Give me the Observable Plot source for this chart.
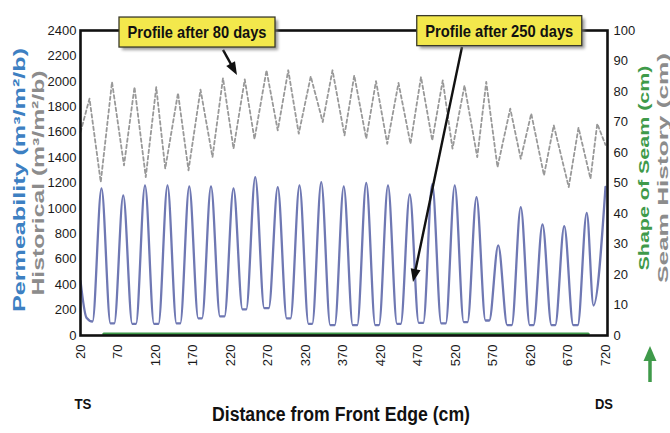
<!DOCTYPE html>
<html><head><meta charset="utf-8">
<script src="https://cdn.jsdelivr.net/npm/d3@7"></script>
<script src="https://cdn.jsdelivr.net/npm/@observablehq/plot@0.6"></script>
<style>
html,body{margin:0;padding:0;background:#fff;}
#chart{width:670px;height:433px;overflow:hidden;}
</style></head><body><div id="chart"></div>
<script>
// Permeability profile after 250 days (blue solid line), distance in cm
const permX = [20, 28, 36, 48, 60, 65, 77, 89, 94, 106, 118, 124, 136, 148, 153, 165, 177, 182, 194, 206, 212, 224, 236, 241, 253, 265, 271, 283, 295, 300, 312, 324, 329, 341, 353, 359, 371, 383, 389, 401, 413, 418, 430, 442, 447, 459, 471, 477, 489, 501, 507, 519, 531, 536, 548, 560, 565, 577, 589, 595, 607, 619, 624, 636, 648, 653, 665, 677, 683, 695, 704, 720];
const permY = [430, 140, 110, 1157, 95, 95, 1102, 92, 92, 1181, 92, 92, 1181, 95, 95, 1173, 135, 135, 1173, 150, 150, 1157, 205, 205, 1247, 215, 215, 1168, 134, 134, 1181, 92, 92, 1207, 82, 82, 1173, 82, 82, 1200, 82, 82, 1181, 92, 92, 1110, 100, 100, 1190, 95, 95, 1181, 105, 105, 1089, 118, 118, 709, 82, 82, 1010, 82, 82, 875, 82, 82, 860, 82, 82, 965, 236, 1170];

// Historical profile after 80 days (grey dashed line)
const histX = [20, 32, 47, 62, 78, 92, 107, 121, 133, 150, 164, 180, 196, 210, 224, 239, 252, 268, 283, 297, 311, 327, 343, 356, 372, 385, 401, 414, 429, 444, 460, 474, 489, 503, 516, 532, 549, 561, 576, 593, 607, 621, 638, 651, 671, 684, 700, 709, 720];
const histY = [1600, 1864, 1207, 1995, 1339, 1955, 1247, 1955, 1313, 1908, 1300, 1935, 1404, 2025, 1470, 2015, 1545, 2087, 1614, 2087, 1588, 2039, 1680, 2087, 1575, 2047, 1549, 2002, 1509, 1987, 1509, 2034, 1535, 2008, 1470, 1968, 1404, 1995, 1325, 1785, 1391, 1746, 1260, 1654, 1168, 1635, 1234, 1667, 1500];

// Shape of seam (green, right axis in cm)
const seamX = [51, 697];
const seamY = [0.5, 0.5];

// Tick labels
const xTicks = [20, 70, 120, 170, 220, 270, 320, 370, 420, 470, 520, 570, 620, 670, 720];
const leftTicks = [0, 200, 400, 600, 800, 1000, 1200, 1400, 1600, 1800, 2000, 2200, 2400];
const rightTicks = [0, 10, 20, 30, 40, 50, 60, 70, 80, 90, 100];
const rightToLeft = 24; // 100 cm <-> 2400

// Annotations (data coordinates)
const annText = ["Profile after 80 days", "Profile after 250 days"];
const annX = [176, 579];
const annY = [2384, 2395];
const arrFromX = [210.7, 529.3];
const arrFromY = [2243, 2266];
const arrToX = [229.3, 464];
const arrToY = [2046, 417];

const SANS = "'Liberation Sans', Arial, sans-serif";

const perm = permX.map((x, i) => ({x, y: permY[i]}));
const hist = histX.map((x, i) => ({x, y: histY[i]}));
const seam = seamX.map((x, i) => ({x, y: seamY[i] * rightToLeft}));

const plot = Plot.plot({
  width: 670, height: 433,
  marginLeft: 80, marginRight: 63, marginTop: 30, marginBottom: 98,
  insetRight: 2,
  x: {domain: [20, 720]},
  y: {domain: [0, 2400]},
  style: {fontFamily: SANS, fontSize: "13px", color: "#1a1a1a", background: "#fff", overflow: "visible"},
  marks: [
    Plot.line(seam, {x: "x", y: "y", stroke: "#3f9a4a", strokeWidth: 3}),
    Plot.line(hist, {x: "x", y: "y", stroke: "#999999", strokeWidth: 1.8, strokeDasharray: "3.5,2.8"}),
    Plot.line(perm, {x: "x", y: "y", stroke: "#6f78b3", strokeWidth: 2.3, curve: "monotone-x"}),
    Plot.frame({stroke: "#111", strokeWidth: 2.6}),
    Plot.axisY({anchor: "left", ticks: leftTicks, tickFormat: d => String(d), tickSize: 0, tickPadding: 4, label: null, fontSize: 13}),
    Plot.axisY({anchor: "right", ticks: rightTicks.map(d => d * rightToLeft), tickFormat: d => String(Math.round(d / rightToLeft)), tickSize: 0, tickPadding: 6, label: null, fontSize: 13}),
    Plot.axisX({ticks: xTicks, tickFormat: d => String(d), tickRotate: -90, tickSize: 0, tickPadding: 9, label: null, fontSize: 13})
  ]
});
document.getElementById("chart").appendChild(plot);

const svg = d3.select(plot);
const sx = plot.scale("x"), sy = plot.scale("y");
const defs = svg.append("defs");
defs.append("filter").attr("id", "shadow").attr("x", "-20%").attr("y", "-20%").attr("width", "140%").attr("height", "160%")
  .append("feGaussianBlur").attr("stdDeviation", 1.6);

function arrowHead(g, x0, y0, x1, y1, len, wid, color) {
  const dx = x1 - x0, dy = y1 - y0, L = Math.hypot(dx, dy);
  const ux = dx / L, uy = dy / L, px = -uy, py = ux;
  const bx = x1 - ux * len, by = y1 - uy * len;
  g.append("path")
    .attr("d", `M${x1},${y1}L${bx + px * wid / 2},${by + py * wid / 2}L${bx - px * wid / 2},${by - py * wid / 2}Z`)
    .attr("fill", color);
  return [bx + ux * 2, by + uy * 2];
}

const annTextLen = [139, 148];
const ann = svg.append("g");
annText.forEach((t, i) => {
  const x0 = sx.apply(arrFromX[i]), y0 = sy.apply(arrFromY[i]);
  const x1 = sx.apply(arrToX[i]), y1 = sy.apply(arrToY[i]);
  const [ex, ey] = arrowHead(ann, x0, y0, x1, y1, 13, 10, "#111");
  ann.insert("line", ":first-child").attr("x1", x0).attr("y1", y0).attr("x2", ex).attr("y2", ey)
    .attr("stroke", "#111").attr("stroke-width", 2.4);
  const cx = sx.apply(annX[i]), cy = sy.apply(annY[i]);
  const g = ann.append("g");
  g.append("text").attr("x", cx).attr("y", cy + 6).attr("text-anchor", "middle")
    .attr("font-family", SANS).attr("font-weight", "bold").attr("font-size", 16.5).attr("fill", "#111")
    .attr("textLength", annTextLen[i]).attr("lengthAdjust", "spacingAndGlyphs").text(t);
  const w = annTextLen[i] + 17, h = 30;
  g.insert("rect", "text").attr("x", cx - w / 2 + 3).attr("y", cy - h / 2 + 3).attr("width", w).attr("height", h)
    .attr("fill", "#777").attr("opacity", 0.7).attr("filter", "url(#shadow)");
  g.insert("rect", "text").attr("x", cx - w / 2).attr("y", cy - h / 2).attr("width", w).attr("height", h)
    .attr("fill", "#f3e84c").attr("stroke", "#3a3a2a").attr("stroke-width", 1.3);
});

// Axis titles
const titles = svg.append("g").attr("font-weight", "bold");
function vtitle(x, y, text, color, len, size) {
  titles.append("text").attr("transform", `translate(${x},${y}) rotate(-90)`)
    .attr("text-anchor", "middle").attr("dy", "0.35em")
    .attr("font-family", SANS).attr("font-size", size).attr("fill", color)
    .attr("textLength", len).attr("lengthAdjust", "spacingAndGlyphs").text(text);
}
vtitle(19, 180, "Permeability (m³/m²/b)", "#3d80c2", 264, 16);
vtitle(38, 183, "Historical (m³/m²/b)", "#8c8c8c", 225, 16);
vtitle(644, 168, "Shape of Seam (cm)", "#3f9a4a", 205, 15);
vtitle(663, 168, "Seam History (cm)", "#8c8c8c", 230, 15);

function htext(x, y, text, size, len) {
  const t = titles.append("text").attr("x", x).attr("y", y).attr("text-anchor", "middle")
    .attr("font-family", SANS).attr("font-size", size).attr("fill", "#111").text(text);
  if (len) t.attr("textLength", len).attr("lengthAdjust", "spacingAndGlyphs");
}
htext(341, 421, "Distance from Front Edge (cm)", 20, 258);
htext(83, 409, "TS", 15, 17);
htext(604, 409, "DS", 15, 18);

// Green up arrow under the right axis
const ga = svg.append("g");
const [gx, gy] = arrowHead(ga, 650, 382, 650, 346, 15, 13, "#3f9a4a");
ga.append("line").attr("x1", 650).attr("y1", 382).attr("x2", gx).attr("y2", gy)
  .attr("stroke", "#3f9a4a").attr("stroke-width", 3.5);
</script>
</body></html>
